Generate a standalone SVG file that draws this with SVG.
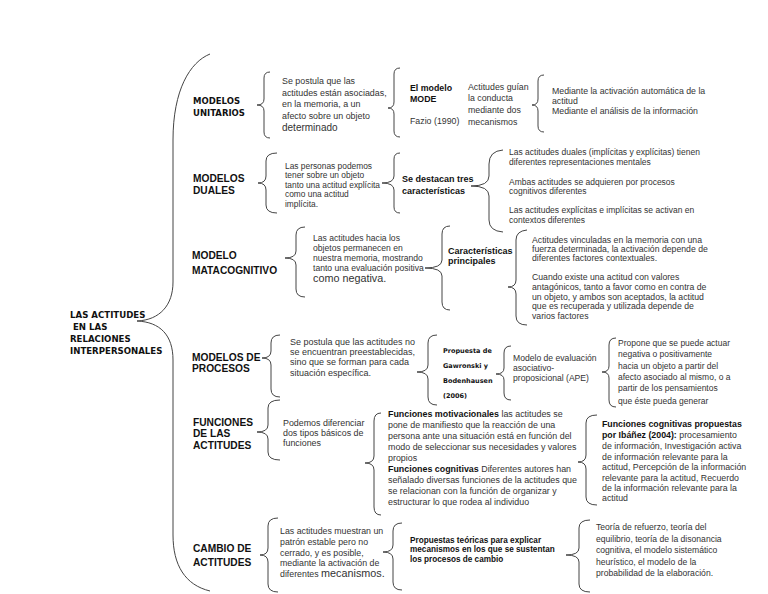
<svg xmlns="http://www.w3.org/2000/svg" width="768" height="594" viewBox="0 0 768 594">
<style>
.v{font-family:"DejaVu Sans",Verdana,sans-serif;font-weight:bold;fill:#111}
.h{font-family:"Liberation Sans",Arial,sans-serif;font-weight:bold;font-size:10.2px;fill:#111}
.t{font-family:"Liberation Sans",Arial,sans-serif;fill:#333}
.b{font-weight:bold;fill:#111}
.br{fill:none;stroke:#444;stroke-width:1}
</style>
<rect width="768" height="594" fill="#fff"/>
<g id="connectors">
<path class="br" d="M210,54 C190,62 173,90 173,140 L173,282 C173,305 160,320 137,321 C160,322 173,335 173,360 L173,535 C173,565 185,585 210,591"/>
<path class="br" d="M270,72 Q264,72 264,78 L264,99 Q264,105 257,105 Q264,105 264,111 L264,132 Q264,138 270,138"/>
<path class="br" d="M400,68 Q394,68 394,74 L394,102 Q394,108 388,108 Q394,108 394,114 L394,131 Q394,137 400,137"/>
<path class="br" d="M544,75 Q538,75 538,81 L538,99 Q538,105 532,105 Q538,105 538,111 L538,126 Q538,132 544,132"/>
<path class="br" d="M277,153 Q266,153 266,161 L266,176 Q266,183 258,183 Q266,183 266,190 L266,205 Q266,213 277,213"/>
<path class="br" d="M400,153 Q394,153 394,159 L394,176 Q394,183 382,183 Q394,183 394,190 L394,207 Q394,213 400,213"/>
<path class="br" d="M503,150 Q489,151 489,164 L489,176 Q489,186 471,186 Q489,186 489,196 L489,220 Q489,231 503,232"/>
<path class="br" d="M305,227 Q296,227 296,235 L296,251 Q296,258 285,258 Q296,258 296,265 L296,289 Q296,297 305,297"/>
<path class="br" d="M450,226 Q442,226 442,234 L442,260 Q442,268 425,268 Q442,268 442,276 L442,302 Q442,310 450,310"/>
<path class="br" d="M527,230 Q516,231 516,240 L516,280 Q516,287 508,287 Q516,287 516,294 L516,316 Q516,325 527,325"/>
<path class="br" d="M280,335 Q271,335 271,343 L271,351 Q271,358 262,358 Q271,358 271,365 L271,389 Q271,397 280,397"/>
<path class="br" d="M437,335 Q428,335 428,343 L428,365 Q428,372 417,372 Q428,372 428,379 L428,397 Q428,405 437,405"/>
<path class="br" d="M511,346 Q504,346 504,353 L504,368 Q504,374 496,374 Q504,374 504,380 L504,393 Q504,400 511,400"/>
<path class="br" d="M616,338 Q609,338 609,345 L609,366 Q609,372 602,372 Q609,372 609,378 L609,400 Q609,407 616,407"/>
<path class="br" d="M280,400 Q268,400 268,408 L268,425 Q268,432 257,432 Q268,432 268,439 L268,452 Q268,460 280,460"/>
<path class="br" d="M381,413 Q374,413 374,421 L374,456 Q374,463 365,463 Q374,463 374,470 L374,507 Q374,515 381,515"/>
<path class="br" d="M597,415 Q586,415 586,423 L586,455 Q586,462 578,462 Q586,462 586,469 L586,497 Q586,505 597,505"/>
<path class="br" d="M278,518 Q268,518 268,526 L268,548 Q268,555 260,555 Q268,555 268,562 L268,584 Q268,592 278,592"/>
<path class="br" d="M402,523 Q393,523 393,531 L393,545 Q393,552 383,552 Q393,552 393,559 L393,582 Q393,590 402,590"/>
<path class="br" d="M590,520 Q579,520 579,528 L579,548 Q579,555 566,555 Q579,555 579,562 L579,584 Q579,592 590,592"/>
</g>
<g id="root">
<text class="v" font-size="8.6"><tspan x="70" y="318">LAS ACTITUDES</tspan><tspan x="73" y="329.5">EN LAS</tspan><tspan x="70" y="342">RELACIONES</tspan><tspan x="70" y="353.5">INTERPERSONALES</tspan></text>
</g>
<g id="modelos-unitarios">
<text class="v" font-size="8.5"><tspan x="193" y="103.5">MODELOS</tspan><tspan x="193" y="115.5">UNITARIOS</tspan></text>
</g>
<g id="unitarios-def">
<text class="t" font-size="8.9"><tspan x="282" y="83.5">Se postula que las</tspan><tspan x="282" y="95.5">actitudes están asociadas,</tspan><tspan x="282" y="106.5">en la memoria, a un</tspan><tspan x="282" y="118.5">afecto sobre un objeto</tspan><tspan x="282" y="131" font-size="10">determinado</tspan></text>
</g>
<g id="mode">
<text class="t" font-size="8.8"><tspan x="410" y="91" class="b">El modelo</tspan><tspan x="410" y="101.5" class="b">MODE</tspan><tspan x="410" y="123.5">Fazio (1990)</tspan></text>
</g>
<g id="mode-guian">
<text class="t" font-size="8.8"><tspan x="468" y="90">Actitudes guían</tspan><tspan x="468" y="101">la conducta</tspan><tspan x="468" y="113">mediante dos</tspan><tspan x="468" y="125">mecanismos</tspan></text>
</g>
<g id="mode-mecanismos">
<text class="t" font-size="8.75"><tspan x="552" y="94">Mediante la activación automática de la</tspan><tspan x="552" y="104">actitud</tspan><tspan x="552" y="114">Mediante el análisis de la información</tspan></text>
</g>
<g id="modelos-duales">
<text class="h"><tspan x="193" y="182">MODELOS</tspan><tspan x="193" y="194">DUALES</tspan></text>
</g>
<g id="duales-def">
<text class="t" font-size="8.4"><tspan x="285" y="169">Las personas podemos</tspan><tspan x="285" y="178">tener sobre un objeto</tspan><tspan x="285" y="188">tanto una actitud explícita</tspan><tspan x="285" y="197">como una actitud</tspan><tspan x="285" y="207">implícita.</tspan></text>
</g>
<g id="duales-tres">
<text class="t b" font-size="9"><tspan x="402" y="182">Se destacan tres</tspan><tspan x="402" y="193.5">características</tspan></text>
</g>
<g id="duales-caracteristicas">
<text class="t" font-size="8.5"><tspan x="509" y="155">Las actitudes duales (implícitas y explícitas) tienen</tspan><tspan x="509" y="165">diferentes representaciones mentales</tspan><tspan x="509" y="185">Ambas actitudes se adquieren por procesos</tspan><tspan x="509" y="194">cognitivos diferentes</tspan><tspan x="509" y="213">Las actitudes explícitas e implícitas se activan en</tspan><tspan x="509" y="223">contextos diferentes</tspan></text>
</g>
<g id="modelo-metacognitivo">
<text class="h"><tspan x="192" y="259">MODELO</tspan><tspan x="192" y="274">MATACOGNITIVO</tspan></text>
</g>
<g id="metacognitivo-def">
<text class="t" font-size="8.6"><tspan x="313" y="241">Las actitudes hacia los</tspan><tspan x="313" y="251">objetos permanecen en</tspan><tspan x="313" y="261">nuestra memoria, mostrando</tspan><tspan x="313" y="270.5">tanto una evaluación positiva</tspan><tspan x="313" y="282" font-size="10.8">como negativa.</tspan></text>
</g>
<g id="metacognitivo-principales">
<text class="t b" font-size="9"><tspan x="448" y="253.5">Características</tspan><tspan x="448" y="263.5">principales</tspan></text>
</g>
<g id="metacognitivo-caracteristicas">
<text class="t" font-size="8.7"><tspan x="532" y="243">Actitudes vinculadas en la memoria con una</tspan><tspan x="532" y="252">fuerza determinada, la activación depende de</tspan><tspan x="532" y="261">diferentes factores contextuales.</tspan><tspan x="532" y="280">Cuando existe una actitud con valores</tspan><tspan x="532" y="290">antagónicos, tanto a favor como en contra de</tspan><tspan x="532" y="299.5">un objeto, y ambos son aceptados, la actitud</tspan><tspan x="532" y="309">que es recuperada y utilizada depende de</tspan><tspan x="532" y="318.5">varios factores</tspan></text>
</g>
<g id="modelos-procesos">
<text class="h"><tspan x="192" y="361">MODELOS DE</tspan><tspan x="192" y="372">PROCESOS</tspan></text>
</g>
<g id="procesos-def">
<text class="t" font-size="9"><tspan x="290" y="345">Se postula que las actitudes no</tspan><tspan x="290" y="355">se encuentran preestablecidas,</tspan><tspan x="290" y="365">sino que se forman para cada</tspan><tspan x="290" y="376">situación específica.</tspan></text>
</g>
<g id="gawronski">
<text class="v" font-size="6.5"><tspan x="443" y="352.5">Propuesta de</tspan><tspan x="443" y="367.5">Gawronski y</tspan><tspan x="443" y="382.5">Bodenhausen</tspan><tspan x="443" y="397.5">(2006)</tspan></text>
</g>
<g id="ape">
<text class="t" font-size="8.6"><tspan x="513" y="361">Modelo de evaluación</tspan><tspan x="513" y="371">asociativo-</tspan><tspan x="513" y="381">proposicional (APE)</tspan></text>
</g>
<g id="ape-def">
<text class="t" font-size="8.5"><tspan x="618" y="346">Propone que se puede actuar</tspan><tspan x="618" y="357">negativa o positivamente</tspan><tspan x="618" y="368.5">hacia un objeto a partir del</tspan><tspan x="618" y="379.5">afecto asociado al mismo, o a</tspan><tspan x="618" y="391">partir de los pensamientos</tspan><tspan x="618" y="404">que éste pueda generar</tspan></text>
</g>
<g id="funciones">
<text class="h"><tspan x="193" y="425.5">FUNCIONES</tspan><tspan x="193" y="437">DE LAS</tspan><tspan x="193" y="449">ACTITUDES</tspan></text>
</g>
<g id="funciones-def">
<text class="t" font-size="8.9"><tspan x="283" y="426">Podemos diferenciar</tspan><tspan x="283" y="436">dos tipos básicos de</tspan><tspan x="283" y="446">funciones</tspan></text>
</g>
<g id="funciones-tipos">
<text class="t" font-size="8.9"><tspan x="388" y="417"><tspan class="b">Funciones motivacionales</tspan> las actitudes se</tspan><tspan x="388" y="428">pone de manifiesto que la reacción de una</tspan><tspan x="388" y="439">persona ante una situación está en función del</tspan><tspan x="388" y="450">modo de seleccionar sus necesidades y valores</tspan><tspan x="388" y="461">propios</tspan><tspan x="388" y="472"><tspan class="b">Funciones cognitivas</tspan> Diferentes autores han</tspan><tspan x="388" y="483">señalado diversas funciones de la actitudes que</tspan><tspan x="388" y="494">se relacionan con la función de organizar y</tspan><tspan x="388" y="505">estructurar lo que rodea al individuo</tspan></text>
</g>
<g id="ibanez">
<text class="t" font-size="8.8"><tspan x="602" y="427" class="b">Funciones cognitivas propuestas</tspan><tspan x="602" y="438"><tspan class="b">por Ibáñez (2004):</tspan> procesamiento</tspan><tspan x="602" y="449">de información, Investigación activa</tspan><tspan x="602" y="459.5">de información relevante para la</tspan><tspan x="602" y="470">actitud, Percepción de la información</tspan><tspan x="602" y="481">relevante para la actitud, Recuerdo</tspan><tspan x="602" y="491">de la información relevante para la</tspan><tspan x="602" y="500.5">actitud</tspan></text>
</g>
<g id="cambio">
<text class="h"><tspan x="193" y="552">CAMBIO DE</tspan><tspan x="193" y="566">ACTITUDES</tspan></text>
</g>
<g id="cambio-def">
<text class="t" font-size="8.8"><tspan x="280" y="534">Las actitudes muestran un</tspan><tspan x="280" y="545">patrón estable pero no</tspan><tspan x="280" y="555.5">cerrado, y es posible,</tspan><tspan x="280" y="565.5">mediante la activación de</tspan><tspan x="280" y="577">diferentes <tspan font-size="10.8">mecanismos.</tspan></tspan></text>
</g>
<g id="cambio-propuestas">
<text class="t b" font-size="8.2"><tspan x="410" y="543">Propuestas teóricas para explicar</tspan><tspan x="410" y="552">mecanismos en los que se sustentan</tspan><tspan x="410" y="561.5">los procesos de cambio</tspan></text>
</g>
<g id="cambio-teorias">
<text class="t" font-size="8.6"><tspan x="596" y="530">Teoría de refuerzo, teoría del</tspan><tspan x="596" y="542">equilibrio, teoría de la disonancia</tspan><tspan x="596" y="553">cognitiva, el modelo sistemático</tspan><tspan x="596" y="565">heurístico, el modelo de la</tspan><tspan x="596" y="576">probabilidad de la elaboración.</tspan></text>
</g>
</svg>
